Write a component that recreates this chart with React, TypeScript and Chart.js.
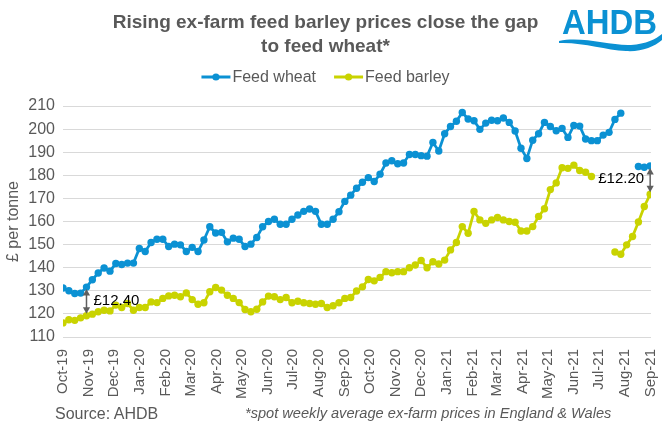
import React, { useEffect, useRef } from 'react';
import { Chart, registerables } from 'chart.js';

Chart.register(...registerables);

const FONT = '"Liberation Sans", Arial, Helvetica, sans-serif';
const TEXT = '#595959';
const WHEAT_COLOR = '#0B91D3';
const BARLEY_COLOR = '#C9D300';

// first weekly observation (Fri 4 Oct 2019); axis ends 4 Sep 2021
const START_UTC = Date.UTC(2019, 9, 4);
const AXIS_END_UTC = Date.UTC(2021, 8, 4);
const DAY_MS = 86400000;

const monthLabels = [
  'Oct-19', 'Nov-19', 'Dec-19', 'Jan-20', 'Feb-20', 'Mar-20', 'Apr-20', 'May-20',
  'Jun-20', 'Jul-20', 'Aug-20', 'Sep-20', 'Oct-20', 'Nov-20', 'Dec-20', 'Jan-21',
  'Feb-21', 'Mar-21', 'Apr-21', 'May-21', 'Jun-21', 'Jul-21', 'Aug-21', 'Sep-21',
];

// £/t, weekly
const feedWheat: (number | null)[] = [
  131.2, 130.0, 128.8, 129.0, 131.6, 134.8, 137.7, 139.9, 138.5, 141.8,
  141.4, 142.0, 142.0, 148.3, 147.0, 150.9, 152.3, 152.3, 149.2, 150.2,
  149.9, 147.0, 148.8, 147.0, 152.0, 157.7, 155.0, 155.3, 151.2, 152.8,
  152.3, 149.2, 150.2, 153.1, 157.7, 160.0, 161.0, 158.8, 158.8, 161.0,
  162.8, 164.4, 165.4, 164.4, 158.8, 158.8, 161.0, 164.2, 168.7, 171.4,
  174.4, 177.0, 179.0, 177.3, 180.5, 185.3, 186.3, 185.0, 185.3, 189.0,
  189.0, 188.5, 188.3, 194.2, 190.5, 198.0, 201.1, 203.4, 207.2, 204.4,
  203.6, 199.9, 202.6, 203.8, 203.6, 204.8, 202.9, 199.2, 191.7, 187.3,
  195.2, 198.0, 202.9, 201.1, 199.3, 200.3, 196.4, 201.6, 201.3, 195.7,
  195.0, 195.0, 197.4, 198.6, 204.2, 206.9, null, null, 183.8, 183.5,
  184.0,
];

const feedBarley: (number | null)[] = [
  116.1, 117.5, 117.2, 118.3, 119.2, 119.9, 120.9, 121.6, 121.3, 123.8,
  122.8, 124.5, 121.6, 122.8, 122.8, 125.2, 124.9, 126.7, 127.8, 128.1,
  127.4, 129.1, 126.2, 124.2, 124.8, 129.6, 131.4, 130.3, 128.1, 126.7,
  124.9, 121.9, 120.9, 122.0, 125.2, 127.7, 127.4, 126.2, 127.1, 124.8,
  125.5, 124.8, 124.5, 124.2, 124.5, 122.8, 123.5, 124.8, 126.7, 127.1,
  129.9, 131.7, 134.9, 134.3, 135.8, 138.3, 137.8, 138.3, 138.3, 140.0,
  141.2, 143.1, 140.0, 142.6, 141.6, 143.3, 147.7, 150.9, 157.8, 154.9,
  164.3, 160.7, 159.2, 160.7, 161.7, 160.7, 160.0, 159.7, 155.9, 155.9,
  157.8, 162.2, 165.5, 173.8, 176.7, 183.3, 183.0, 184.4, 182.1, 181.3,
  179.5, null, null, null, 146.8, 145.8, 149.9, 153.5, 159.8, 166.5,
  171.8,
];

// weeks where the wheat/barley spread is annotated, and their labels
const gapWeeks = [4, 100];
const gapLabels = ['£12.40', '£12.20'];

// day offsets (from the first observation) of each weekly point and of each month tick
const weekDays = feedWheat.map((_, i) => i * 7);
const monthTickDays = monthLabels.map((_, k) => (Date.UTC(2019, 9 + k, 4) - START_UTC) / DAY_MS);
const axisEndDay = (AXIS_END_UTC - START_UTC) / DAY_MS;

const lineLegend = {
  id: 'lineLegend',
  afterDraw(chart: any) {
    const ctx: CanvasRenderingContext2D = chart.ctx;
    ctx.save();
    ctx.font = `16px ${FONT}`;
    const items = chart.data.datasets.map((ds: any) => ({
      text: ds.label as string,
      color: ds.borderColor as string,
      w: ctx.measureText(ds.label).width,
    }));
    const lineW = 29;
    const textGap = 2;
    const itemGap = 18;
    const total = items.reduce((s: number, it: any) => s + lineW + textGap + it.w, 0) + itemGap * (items.length - 1);
    let x = 325.5 - total / 2;
    const y = 77;
    items.forEach((it: any) => {
      ctx.strokeStyle = it.color;
      ctx.lineWidth = 3;
      ctx.beginPath();
      ctx.moveTo(x, y);
      ctx.lineTo(x + lineW, y);
      ctx.stroke();
      ctx.fillStyle = it.color;
      ctx.beginPath();
      ctx.arc(x + lineW / 2, y, 3.6, 0, Math.PI * 2);
      ctx.fill();
      ctx.fillStyle = TEXT;
      ctx.textAlign = 'left';
      ctx.textBaseline = 'middle';
      ctx.fillText(it.text, x + lineW + textGap, y + 1);
      x += lineW + textGap + it.w + itemGap;
    });
    ctx.restore();
  },
};

const gapArrows = {
  id: 'gapArrows',
  afterDatasetsDraw(chart: any) {
    const ctx: CanvasRenderingContext2D = chart.ctx;
    const xs = chart.scales.x;
    const ys = chart.scales.y;
    const area = chart.chartArea;
    ctx.save();
    gapWeeks.forEach((wk, k) => {
      const w = feedWheat[wk] as number;
      const b = feedBarley[wk] as number;
      const px = xs.getPixelForValue(weekDays[wk]);
      const yTop = ys.getPixelForValue(w) + 2;
      const yBot = ys.getPixelForValue(b) - 2;
      const head = 6.5;
      const half = 3.6;
      ctx.strokeStyle = '#5F5F5F';
      ctx.fillStyle = '#5F5F5F';
      ctx.lineWidth = 1.5;
      ctx.beginPath();
      ctx.moveTo(px, yTop + head - 1);
      ctx.lineTo(px, yBot - head + 1);
      ctx.stroke();
      ctx.beginPath();
      ctx.moveTo(px, yTop);
      ctx.lineTo(px - half, yTop + head);
      ctx.lineTo(px + half, yTop + head);
      ctx.closePath();
      ctx.fill();
      ctx.beginPath();
      ctx.moveTo(px, yBot);
      ctx.lineTo(px - half, yBot - head);
      ctx.lineTo(px + half, yBot - head);
      ctx.closePath();
      ctx.fill();
      const leftSide = px > (area.left + area.right) / 2;
      ctx.font = `15px ${FONT}`;
      ctx.fillStyle = '#000000';
      ctx.textBaseline = 'middle';
      ctx.textAlign = leftSide ? 'right' : 'left';
      const my = ys.getPixelForValue((w + b) / 2);
      ctx.fillText(gapLabels[k], leftSide ? px - 6 : px + 7, my - 1);
    });
    ctx.restore();
  },
};

export default function App() {
  const canvasRef = useRef<HTMLCanvasElement | null>(null);

  useEffect(() => {
    if (!canvasRef.current) return;
    Chart.defaults.font.family = FONT;
    const chart = new Chart(canvasRef.current, {
      type: 'line',
      data: {
        datasets: [
          {
            label: 'Feed wheat',
            data: weekDays.map((d, i) => ({ x: d, y: feedWheat[i] })) as any,
            borderColor: WHEAT_COLOR,
            backgroundColor: WHEAT_COLOR,
            pointBackgroundColor: WHEAT_COLOR,
            borderWidth: 2.75,
            pointRadius: 3.7,
            pointBorderWidth: 0,
            pointHoverRadius: 3.7,
            spanGaps: false,
            tension: 0,
          },
          {
            label: 'Feed barley',
            data: weekDays.map((d, i) => ({ x: d, y: feedBarley[i] })) as any,
            borderColor: BARLEY_COLOR,
            backgroundColor: BARLEY_COLOR,
            pointBackgroundColor: BARLEY_COLOR,
            borderWidth: 2.75,
            pointRadius: 3.7,
            pointBorderWidth: 0,
            pointHoverRadius: 3.7,
            spanGaps: false,
            tension: 0,
          },
        ],
      },
      options: {
        animation: false,
        responsive: false,
        events: [],
        layout: { padding: { top: 106, left: 0, right: 14, bottom: 0 } },
        plugins: {
          legend: { display: false },
          title: { display: false },
          tooltip: { enabled: false },
        },
        scales: {
          x: {
            type: 'linear',
            min: 0,
            max: axisEndDay,
            grid: { display: false },
            border: { display: false },
            afterBuildTicks: (scale: any) => {
              scale.ticks = monthTickDays.map((v) => ({ value: v }));
            },
            afterFit: (scale: any) => {
              scale.height = 95;
              scale.paddingLeft = 0;
              scale.paddingRight = 0;
            },
            ticks: {
              autoSkip: false,
              minRotation: 90,
              maxRotation: 90,
              padding: 4,
              color: TEXT,
              font: { size: 15, family: FONT },
              callback: (_v: any, i: number) => monthLabels[i],
            },
          },
          y: {
            min: 110,
            max: 210,
            grid: { color: '#D9D9D9', lineWidth: 1, drawTicks: false },
            border: { display: false },
            afterFit: (scale: any) => {
              scale.width = 63;
            },
            ticks: {
              stepSize: 10,
              padding: 8,
              color: TEXT,
              font: { size: 16, family: FONT },
            },
            title: {
              display: true,
              text: '£ per tonne',
              color: TEXT,
              padding: { top: 4, bottom: 0 },
              font: { size: 16, family: FONT },
            },
          },
        },
      },
      plugins: [gapArrows, lineLegend],
    });
    return () => chart.destroy();
  }, []);

  return (
    <div style={{ position: 'absolute', left: 0, top: 0, width: 665, height: 432, background: '#ffffff', fontFamily: FONT }}>
      <canvas ref={canvasRef} width={665} height={432} style={{ position: 'absolute', left: 0, top: 0 }} />
      <div
        style={{
          position: 'absolute', left: 0, top: 10, width: 651, textAlign: 'center',
          fontWeight: 'bold', fontSize: 19, lineHeight: '24px', color: TEXT,
        }}
      >
        Rising ex-farm feed barley prices close the gap<br />to feed wheat*
      </div>
      <svg width={110} height={58} viewBox="0 0 110 58" style={{ position: 'absolute', left: 555, top: 0 }}>
        <text
          x={7} y={34} textLength={95} lengthAdjust="spacingAndGlyphs"
          fontFamily={FONT} fontWeight="bold" fontSize={35} fill={WHEAT_COLOR}
        >
          AHDB
        </text>
        <path
          d="M 4 41 C 28 36, 55 46, 76 45 C 91 44, 101 39, 107 34 L 107 40 C 99 47, 86 52, 71 51 C 50 50, 28 42, 4 43 Z"
          fill={WHEAT_COLOR}
        />
      </svg>
      <div style={{ position: 'absolute', left: 55, top: 404, fontSize: 16, lineHeight: '19px', color: TEXT }}>
        Source: AHDB
      </div>
      <div style={{ position: 'absolute', left: 245, top: 404, fontSize: 14.6, fontStyle: 'italic', lineHeight: '19px', color: TEXT }}>
        *spot weekly average ex-farm prices in England &amp; Wales
      </div>
    </div>
  );
}
